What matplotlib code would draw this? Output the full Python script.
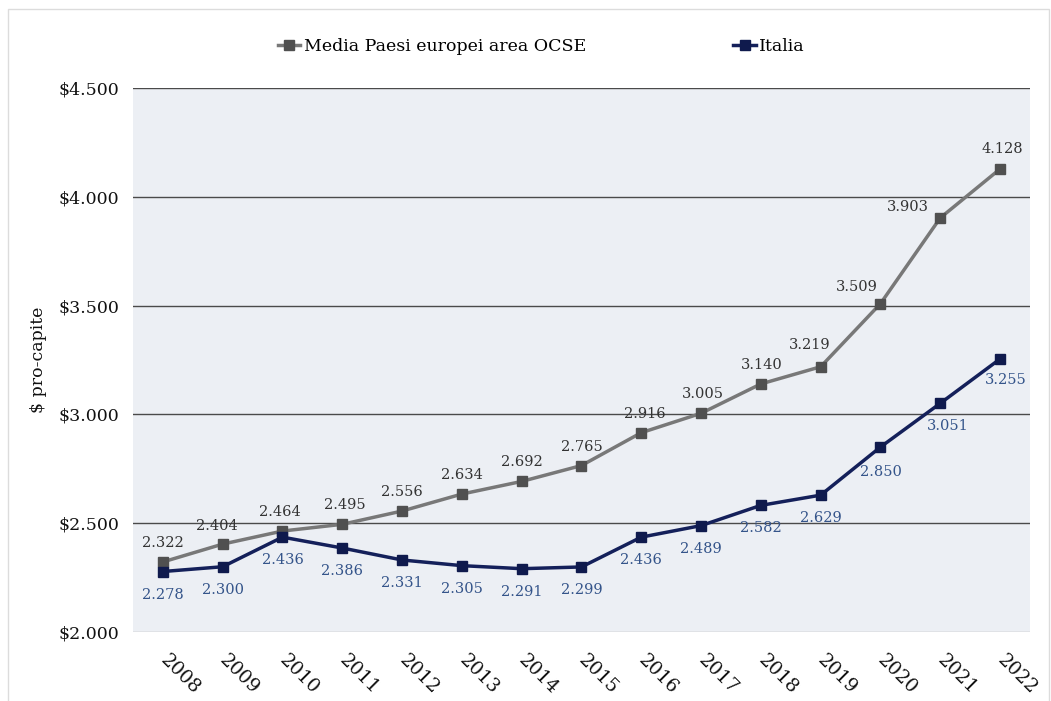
import matplotlib.pyplot as plt
from matplotlib.patches import Rectangle

years = ['2008', '2009', '2010', '2011', '2012', '2013', '2014', '2015',
         '2016', '2017', '2018', '2019', '2020', '2021', '2022']
ocse = [2322, 2404, 2464, 2495, 2556, 2634, 2692, 2765,
        2916, 3005, 3140, 3219, 3509, 3903, 4128]
italia = [2278, 2300, 2436, 2386, 2331, 2305, 2291, 2299,
          2436, 2489, 2582, 2629, 2850, 3051, 3255]
yticks = [2000, 2500, 3000, 3500, 4000, 4500]

# label offsets in pixels (dx, dy)
ocse_off = [(0, 19), (-6, 18), (-3, 19), (3, 19), (0, 19), (0, 19), (0, 19), (0, 19),
            (4, 19), (2, 19), (1, 19), (-11, 22), (-24, 17), (-32, 11), (2, 20)]
italia_off = [(0, -23), (0, -23), (0, -23), (0, -23), (0, -23), (0, -23), (0, -23), (0, -23),
              (0, -23), (0, -23), (0, -23), (0, -23), (0, -25), (7, -23), (6, -21)]


def fmt(v):
    return f"{v:,}".replace(',', '.')


plt.rcParams['font.family'] = ['DejaVu Serif']

fig = plt.figure(figsize=(10.51, 7.01), dpi=100)
fig.patches.append(Rectangle((0.008, -0.01), 0.99, 0.997, transform=fig.transFigure,
                             fill=False, edgecolor='#dcdcdc', lw=1))
ax = fig.add_axes([0.1265, 0.0984, 0.8535, 0.7761])
ax.set_facecolor('#eceff4')

x = list(range(len(years)))
ax.plot(x, ocse, color='#787878', lw=2.5, marker='s', ms=6.5,
        mfc='#505050', mec='#505050', label='Media Paesi europei area OCSE', zorder=3)
ax.plot(x, italia, color='#14205a', lw=2.5, marker='s', ms=6.5,
        mfc='#0f1a4d', mec='#0f1a4d', label='Italia', zorder=3)

for i in x:
    ax.annotate(fmt(ocse[i]), (i, ocse[i]), xytext=ocse_off[i], textcoords='offset pixels',
                ha='center', va='center', fontsize=10.5, color='#333333')
    ax.annotate(fmt(italia[i]), (i, italia[i]), xytext=italia_off[i], textcoords='offset pixels',
                ha='center', va='center', fontsize=10.5, color='#34548a')

ax.set_xlim(-0.5, len(years) - 0.5)
ax.set_ylim(2000, 4500)
ax.set_yticks(yticks)
ax.set_yticklabels(['$' + fmt(v) for v in yticks], fontsize=12.5, color='#111111')
ax.set_xticks(x)
ax.set_xticklabels(years, rotation=-45, ha='left', va='center', rotation_mode='anchor',
                   fontsize=13.5, color='#111111')
ax.tick_params(length=0, pad=10)
ax.tick_params(axis='x', pad=18)
for v in yticks[1:]:
    ax.axhline(v, color='#4a4a4a', lw=1, zorder=1)
ax.axhline(2000, color='#b0b0b0', lw=1, zorder=1)
for s in ax.spines.values():
    s.set_visible(False)

ax.set_ylabel('$ pro-capite', fontsize=12.5, color='#111111', labelpad=8)

leg = fig.legend(loc='center', bbox_to_anchor=(0.515, 0.933), ncol=2, frameon=False,
                 fontsize=12.5, columnspacing=8.5, handlelength=1.3, handletextpad=0.2)

fig.savefig('out.png', dpi=100)
